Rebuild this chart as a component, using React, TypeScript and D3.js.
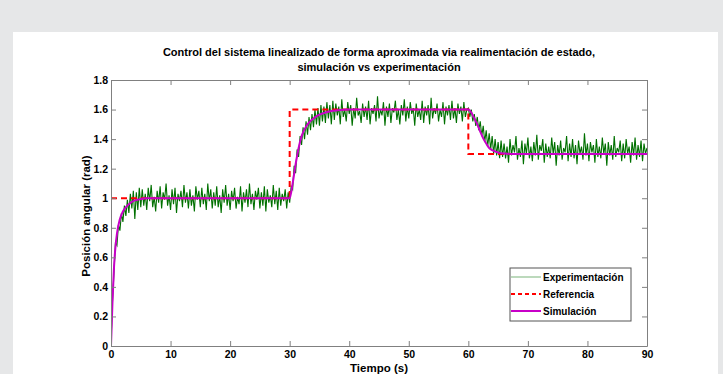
import { type FC, useEffect, useRef } from 'react';
import * as d3 from 'd3';

const width = 723;
const height = 374;
// plot area in px
const plot = { x0: 111, x1: 647, y0: 346, y1: 80 };

const bgColor = '#e6e7e8';
const axisColor = '#808080';
const expColor = '#007000';
const refColor = '#ff0000';
const simColor = '#c800c8';
const font = '"Liberation Sans", Arial, Helvetica, sans-serif';

const titleLines = [
  'Control del sistema linealizado de forma aproximada via realimentación de estado,',
  'simulación vs experimentación',
];
const xLabel = 'Tiempo (s)';
const yLabel = 'Posición angular (rad)';
const legendLabels = ['Experimentación', 'Referencia', 'Simulación'];

const xTicks = [0, 10, 20, 30, 40, 50, 60, 70, 80, 90];
const yTicks = [0, 0.2, 0.4, 0.6, 0.8, 1, 1.2, 1.4, 1.6, 1.8];

// experimento muestreado cada 0.25 s (0 .. 90 s)
const sampleStep = 0.25;
const experimentValues = [
  0.02, 0.3, 0.5, 0.7, 0.68, 0.82, 0.78, 0.9, 0.84, 0.95,
  0.88, 0.99, 0.9, 1.03, 0.93, 1.05, 0.86, 1.04, 0.92, 1.07, 0.94,
  1.06, 0.95, 1.03, 0.92, 1.07, 0.98, 1.09, 0.94, 1.01, 0.91,
  1.05, 0.97, 1.08, 0.93, 1.04, 0.99, 1.1, 0.95, 1.02, 0.92,
  1.06, 0.96, 1.07, 0.9, 1.03, 0.98, 1.05, 0.94, 1.09, 0.97,
  1.04, 0.93, 1.06, 0.95, 1.02, 0.91, 1.08, 0.99, 1.05, 0.94,
  1.07, 0.96, 1.03, 0.92, 1.1, 0.98, 1.06, 0.93, 1.04, 0.95,
  1.08, 0.94, 1.02, 0.9, 1.06, 0.97, 1.09, 0.95, 1.03, 0.92,
  1.05, 0.98, 1.07, 0.93, 1.01, 0.96, 1.08, 0.91, 1.04, 0.97,
  1.06, 0.94, 1.1, 0.96, 1.03, 0.92, 1.05, 0.99, 1.07, 0.93,
  1.04, 0.95, 1.08, 0.91, 1.06, 0.97, 1.02, 0.94, 1.09, 0.96,
  1.05, 0.92, 1.07, 0.95, 1.03, 0.98, 1.06, 0.93, 1.04,
  // 30 s
  0.97, 1.08, 1.06, 1.22, 1.17, 1.33, 1.28, 1.42, 1.36, 1.48,
  1.4, 1.52, 1.43, 1.55, 1.46, 1.57, 1.48, 1.6, 1.5, 1.61,
  1.49, 1.63, 1.52, 1.62, 1.51, 1.65, 1.54, 1.63, 1.5, 1.66,
  1.53, 1.64, 1.56, 1.62, 1.5, 1.67, 1.55, 1.6, 1.52, 1.65,
  1.57, 1.63, 1.49, 1.61, 1.54, 1.68, 1.56, 1.59, 1.51, 1.64,
  1.55, 1.62, 1.53, 1.66, 1.5, 1.61, 1.57, 1.63, 1.52, 1.69,
  1.54, 1.6, 1.56, 1.65, 1.49, 1.62, 1.55, 1.64, 1.51, 1.61,
  1.58, 1.66, 1.53, 1.6, 1.5, 1.63, 1.56, 1.67, 1.52, 1.62,
  1.54, 1.65, 1.57, 1.61, 1.49, 1.64, 1.55, 1.6, 1.53, 1.66,
  1.51, 1.62, 1.56, 1.63, 1.5, 1.68, 1.54, 1.61, 1.57, 1.64,
  1.52, 1.6, 1.55, 1.65, 1.5, 1.62, 1.56, 1.63, 1.53, 1.66,
  1.54, 1.61, 1.51, 1.64, 1.57, 1.62, 1.52, 1.65, 1.55, 1.6,
  // 60 s
  1.61, 1.55, 1.6, 1.52, 1.57, 1.49, 1.55, 1.46, 1.52, 1.42,
  1.49, 1.38, 1.46, 1.35, 1.44, 1.33, 1.42, 1.3, 1.4, 1.29,
  1.38, 1.27, 1.39, 1.28,
  1.37, 1.27, 1.35, 1.24, 1.4, 1.29, 1.36, 1.31, 1.42, 1.26,
  1.34, 1.28, 1.39, 1.23, 1.37, 1.3, 1.41, 1.27, 1.35, 1.25,
  1.38, 1.29, 1.43, 1.26, 1.36, 1.32, 1.4, 1.24, 1.37, 1.28,
  1.35, 1.27, 1.41, 1.3, 1.38, 1.22, 1.36, 1.29, 1.39, 1.26,
  1.34, 1.31, 1.42, 1.25, 1.37, 1.28, 1.4, 1.27, 1.36, 1.23,
  1.39, 1.3, 1.35, 1.26, 1.44, 1.29, 1.37, 1.25, 1.38, 1.31,
  1.36, 1.24, 1.4, 1.28, 1.35, 1.27, 1.41, 1.3, 1.37, 1.22,
  1.38, 1.29, 1.36, 1.26, 1.42, 1.28, 1.34, 1.31, 1.39, 1.25,
  1.37, 1.27, 1.4, 1.3, 1.35, 1.24, 1.38, 1.29, 1.41, 1.26,
  1.36, 1.28, 1.39, 1.25, 1.37, 1.3, 1.34,
];

const referenceTime = [0, 30, 30, 60, 60, 90];
const referenceValues = [1, 1, 1.6, 1.6, 1.3, 1.3];

const simTime = [
  0, 0.25, 0.5, 0.75, 1, 1.5, 2, 2.5, 3, 4, 5, 6, 30,
  30.5, 31, 31.5, 32, 33, 34, 35, 36, 37, 38, 40, 60,
  60.5, 61, 61.5, 62, 62.5, 63, 63.5, 64, 65, 66, 68, 90,
];
const simValues = [
  0, 0.3, 0.53, 0.67, 0.76, 0.86, 0.91, 0.94, 0.96, 0.985, 0.995, 1, 1,
  1.1, 1.23, 1.34, 1.42, 1.5, 1.54, 1.565, 1.58, 1.59, 1.595, 1.6, 1.6,
  1.58, 1.54, 1.5, 1.45, 1.405, 1.37, 1.34, 1.325, 1.31, 1.303, 1.3, 1.3,
];

type Pt = [number, number];

const App: FC = () => {
  const ref = useRef<SVGSVGElement>(null);

  useEffect(() => {
    const { current: dom } = ref;
    if (!dom) {
      return;
    }
    const svg = d3.select(dom);
    svg.selectAll('*').remove();

    // fondo gris + panel blanco
    svg.append('rect').attr('width', width).attr('height', height).attr('fill', bgColor);
    svg.append('rect').attr('x', 13).attr('y', 32).attr('width', 705).attr('height', 360).attr('fill', '#fff');

    const x = d3.scaleLinear().domain([0, 90]).range([plot.x0, plot.x1]);
    const y = d3.scaleLinear().domain([0, 1.8]).range([plot.y0, plot.y1]);

    svg
      .append('clipPath')
      .attr('id', 'plot-clip')
      .append('rect')
      .attr('x', plot.x0)
      .attr('y', plot.y1 - 2)
      .attr('width', plot.x1 - plot.x0)
      .attr('height', plot.y0 - plot.y1 + 4);

    const lines = svg.append('g').attr('clip-path', 'url(#plot-clip)');
    const line = d3
      .line<Pt>()
      .x((d) => x(d[0]))
      .y((d) => y(d[1]));

    const expData: Pt[] = experimentValues.map((v, i) => [i * sampleStep, v]);
    lines
      .append('path')
      .attr('d', line(expData))
      .attr('fill', 'none')
      .attr('stroke', expColor)
      .attr('stroke-width', 1.1);

    const refData: Pt[] = referenceTime.map((t, i) => [t, referenceValues[i]]);
    lines
      .append('path')
      .attr('d', line(refData))
      .attr('fill', 'none')
      .attr('stroke', refColor)
      .attr('stroke-width', 2)
      .attr('stroke-dasharray', '6,4');

    const simData: Pt[] = simTime.map((t, i) => [t, simValues[i]]);
    lines
      .append('path')
      .attr('d', line.curve(d3.curveMonotoneX)(simData))
      .attr('fill', 'none')
      .attr('stroke', simColor)
      .attr('stroke-width', 2);

    // ejes (caja completa, ticks hacia dentro)
    const axes = svg.append('g');
    const fmt = d3.format('~g');
    axes
      .append('g')
      .attr('transform', `translate(0,${plot.y0})`)
      .call(d3.axisBottom(x).tickValues(xTicks).tickSize(-5).tickPadding(5).tickSizeOuter(0).tickFormat(fmt));
    axes
      .append('g')
      .attr('transform', `translate(0,${plot.y1})`)
      .call(d3.axisTop(x).tickValues(xTicks).tickSize(-5).tickSizeOuter(0).tickFormat(() => ''));
    axes
      .append('g')
      .attr('transform', `translate(${plot.x0},0)`)
      .call(d3.axisLeft(y).tickValues(yTicks).tickSize(-5).tickPadding(3).tickSizeOuter(0).tickFormat(fmt));
    axes
      .append('g')
      .attr('transform', `translate(${plot.x1},0)`)
      .call(d3.axisRight(y).tickValues(yTicks).tickSize(-5).tickSizeOuter(0).tickFormat(() => ''));
    axes.selectAll('path').attr('stroke', axisColor);
    axes.selectAll('line').attr('stroke', axisColor);
    axes
      .selectAll('text')
      .attr('fill', '#000')
      .attr('font-family', font)
      .attr('font-weight', 'bold')
      .attr('font-size', 10.5);

    // titulo
    const title = svg
      .append('text')
      .attr('font-family', font)
      .attr('font-weight', 'bold')
      .attr('font-size', 11)
      .attr('text-anchor', 'middle');
    titleLines.forEach((t, i) => {
      title
        .append('tspan')
        .attr('x', (plot.x0 + plot.x1) / 2)
        .attr('y', 56 + i * 15)
        .text(t);
    });

    svg
      .append('text')
      .attr('x', (plot.x0 + plot.x1) / 2)
      .attr('y', 372)
      .attr('text-anchor', 'middle')
      .attr('font-family', font)
      .attr('font-weight', 'bold')
      .attr('font-size', 11.5)
      .text(xLabel);

    svg
      .append('text')
      .attr('transform', `translate(90,${(plot.y0 + plot.y1) / 2 + 3}) rotate(-90)`)
      .attr('text-anchor', 'middle')
      .attr('font-family', font)
      .attr('font-weight', 'bold')
      .attr('font-size', 11.5)
      .text(yLabel);

    // leyenda
    const legend = svg.append('g').attr('transform', 'translate(510,268)');
    legend
      .append('rect')
      .attr('width', 121)
      .attr('height', 53)
      .attr('fill', '#fff')
      .attr('stroke', '#555')
      .attr('stroke-width', 1);
    const swatches = [
      { color: '#90c090', width: 1.2, dash: null },
      { color: refColor, width: 2, dash: '4,3' },
      { color: simColor, width: 2, dash: null },
    ];
    legendLabels.forEach((label, i) => {
      const cy = 9 + i * 17;
      const s = swatches[i];
      legend
        .append('line')
        .attr('x1', 1)
        .attr('x2', 31)
        .attr('y1', cy)
        .attr('y2', cy)
        .attr('stroke', s.color)
        .attr('stroke-width', s.width)
        .attr('stroke-dasharray', s.dash);
      legend
        .append('text')
        .attr('x', 33)
        .attr('y', cy + 4)
        .attr('font-family', font)
        .attr('font-weight', 'bold')
        .attr('font-size', 10)
        .text(label);
    });
  }, []);

  return (
    <div style={{ position: 'absolute', left: 0, top: 0 }}>
      <svg ref={ref} width={width} height={height} style={{ display: 'block' }} />
    </div>
  );
};

export default App;
